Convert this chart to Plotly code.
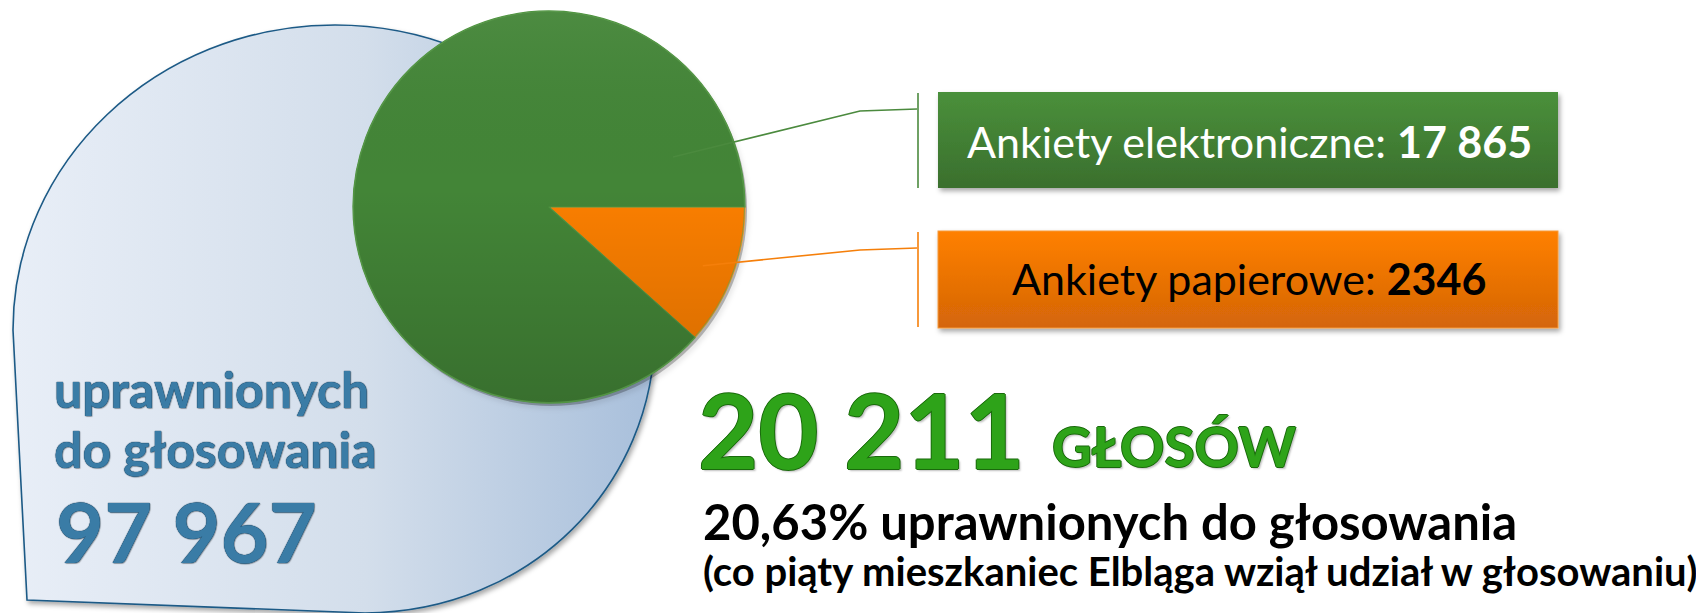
import base64
import math
import plotly.graph_objects as go

# ---------------- data ----------------
slice_labels = ["Ankiety papierowe", "Ankiety elektroniczne"]
slice_values = [2346, 17865]
slice_colors = ["#fb7f00", "#438537"]
total_votes = 20211
eligible_voters = 97967
turnout_pct = "20,63%"

W, H = 1696, 613


def px(x):
    return x / W


def py(y):
    return 1 - y / H


cx, cy, r = 549, 207, 196

# ---------------- decorative background (teardrop + label boxes) ----------------
svg = f'''<svg xmlns="http://www.w3.org/2000/svg" width="{W}" height="{H}" viewBox="0 0 {W} {H}" preserveAspectRatio="none">
<defs>
<linearGradient id="tg" x1="0" y1="0" x2="1" y2="0">
<stop offset="0" stop-color="#e8eef7"/><stop offset="0.55" stop-color="#d3deeb"/><stop offset="1" stop-color="#a8bfdb"/>
</linearGradient>
<linearGradient id="gg" x1="0" y1="0" x2="0" y2="1">
<stop offset="0" stop-color="#4a903b"/><stop offset="1" stop-color="#3a6f2d"/>
</linearGradient>
<linearGradient id="og" x1="0" y1="0" x2="0" y2="1">
<stop offset="0" stop-color="#ff8000"/><stop offset="1" stop-color="#d46508"/>
</linearGradient>
<filter id="sh" x="-10%" y="-10%" width="130%" height="140%">
<feDropShadow dx="2" dy="3" stdDeviation="2.5" flood-color="#000" flood-opacity="0.35"/>
</filter>
</defs>
<path d="M27,600 L13,330 C13,162 157,25 335,25 C512,25 655,162 655,330 C655,486 530,612 365,613 Z"
 fill="url(#tg)" stroke="#1c5a86" stroke-width="1.6" filter="url(#sh)"/>
<circle cx="{cx + 2}" cy="{cy + 3}" r="{r}" fill="#000" fill-opacity="0.25" filter="url(#sh)"/>
<rect x="938" y="92" width="620" height="96" fill="url(#gg)" filter="url(#sh)"/>
<rect x="938" y="231" width="620" height="97" fill="url(#og)" stroke="#f59a3c" stroke-width="1" filter="url(#sh)"/>
</svg>'''
svg_uri = "data:image/svg+xml;base64," + base64.b64encode(svg.encode("utf-8")).decode("ascii")

# light shading overlay on top of the pie (vertical gradient, like the original)
svg2 = f'''<svg xmlns="http://www.w3.org/2000/svg" width="{W}" height="{H}" viewBox="0 0 {W} {H}" preserveAspectRatio="none">
<defs>
<linearGradient id="pg" x1="0" y1="0" x2="0" y2="1">
<stop offset="0" stop-color="#ffffff" stop-opacity="0.05"/><stop offset="0.45" stop-color="#000000" stop-opacity="0.0"/>
<stop offset="1" stop-color="#000000" stop-opacity="0.16"/>
</linearGradient>
</defs>
<circle cx="{cx}" cy="{cy}" r="{r - 0.5}" fill="url(#pg)" stroke="#5c9a4d" stroke-opacity="0.6" stroke-width="1.2"/>
</svg>'''
svg2_uri = "data:image/svg+xml;base64," + base64.b64encode(svg2.encode("utf-8")).decode("ascii")

# ---------------- pie ----------------
fig = go.Figure()
fig.add_trace(go.Pie(
    labels=slice_labels,
    values=slice_values,
    sort=False,
    direction="clockwise",
    rotation=90,
    marker=dict(colors=slice_colors, line=dict(color=["#ff9a30", "#4f9440"], width=1.2)),
    textinfo="none",
    hoverinfo="skip",
    showlegend=False,
    domain=dict(x=[px(cx - r), px(cx + r)], y=[py(cy + r), py(cy - r)]),
))

# leader lines: orange starts in the middle of the paper slice (computed from data)
frac_paper = slice_values[0] / sum(slice_values)
mid_ang = math.radians(frac_paper * 360 / 2)
ox = cx + 0.84 * r * math.cos(mid_ang)
oy = cy + 0.84 * r * math.sin(mid_ang)

shapes = [
    dict(type="path", xref="paper", yref="paper",
         path=f"M {px(673)} {py(157)} L {px(860)} {py(111)} L {px(917)} {py(109)}",
         line=dict(color="#4b8a3e", width=1.6)),
    dict(type="line", xref="paper", yref="paper", x0=px(918), x1=px(918), y0=py(93), y1=py(188),
         line=dict(color="#4b8a3e", width=1.6)),
    dict(type="path", xref="paper", yref="paper",
         path=f"M {px(ox)} {py(oy)} L {px(860)} {py(250)} L {px(917)} {py(248)}",
         line=dict(color="#f57f0a", width=1.6)),
    dict(type="line", xref="paper", yref="paper", x0=px(918), x1=px(918), y0=py(232), y1=py(327),
         line=dict(color="#f57f0a", width=1.6)),
]

FONT = "Lato, 'Open Sans', sans-serif"
blue_shadow = "0px 0px 1px #0c3654, 0px 0px 1px #0c3654, 1px 1px 1px rgba(0,0,0,0.25)"
green_shadow = "1px 0 #1a6a0c, -1px 0 #1a6a0c, 0 1px #1a6a0c, 0 -1px #1a6a0c, 2px 2px 2px rgba(0,0,0,0.25)"


def fmt(n):
    return f"{n:,}".replace(",", " ")


def ann(text, x, y, size, color, xanchor="left", shadow=None, bold=False):
    f = dict(family=FONT, size=size, color=color)
    if shadow:
        f["shadow"] = shadow
    if bold:
        f["weight"] = 700
    return dict(text=text, x=px(x), y=py(y), xref="paper", yref="paper",
                xanchor=xanchor, yanchor="middle", showarrow=False, font=f)


annotations = [
    ann("uprawnionych", 52, 389, 50, "#3a7ca6", shadow=blue_shadow, bold=True),
    ann("do głosowania", 52, 449, 50, "#3a7ca6", shadow=blue_shadow, bold=True),
    ann(fmt(eligible_voters), 54, 531, 83, "#3a7ca6", shadow=blue_shadow, bold=True),
    ann(f"{slice_labels[1]}: <b>{fmt(slice_values[1])}</b>", 1249, 141, 43, "#ffffff", xanchor="center"),
    ann(f"{slice_labels[0]}: <b>{slice_values[0]}</b>", 1249, 278, 43, "#000000", xanchor="center"),
    ann(fmt(total_votes), 696, 428, 104, "#2ea319", shadow=green_shadow, bold=True),
    ann("GŁOSÓW", 1050, 446, 55, "#2ea319", shadow=green_shadow, bold=True),
    ann(f"{turnout_pct} uprawnionych do głosowania", 701, 521, 49, "#000000", bold=True),
    ann("(co piąty mieszkaniec Elbląga wziął udział w głosowaniu)", 701, 571, 40, "#000000", bold=True),
]

fig.update_layout(
    width=W, height=H,
    margin=dict(l=0, r=0, t=0, b=0),
    paper_bgcolor="#ffffff",
    plot_bgcolor="#ffffff",
    shapes=shapes,
    annotations=annotations,
    images=[
        dict(source=svg_uri, xref="paper", yref="paper", x=0, y=1, sizex=1, sizey=1,
             xanchor="left", yanchor="top", sizing="stretch", layer="below"),
        dict(source=svg2_uri, xref="paper", yref="paper", x=0, y=1, sizex=1, sizey=1,
             xanchor="left", yanchor="top", sizing="stretch", layer="above"),
    ],
    xaxis=dict(visible=False),
    yaxis=dict(visible=False),
)

fig.write_html("out.html")
